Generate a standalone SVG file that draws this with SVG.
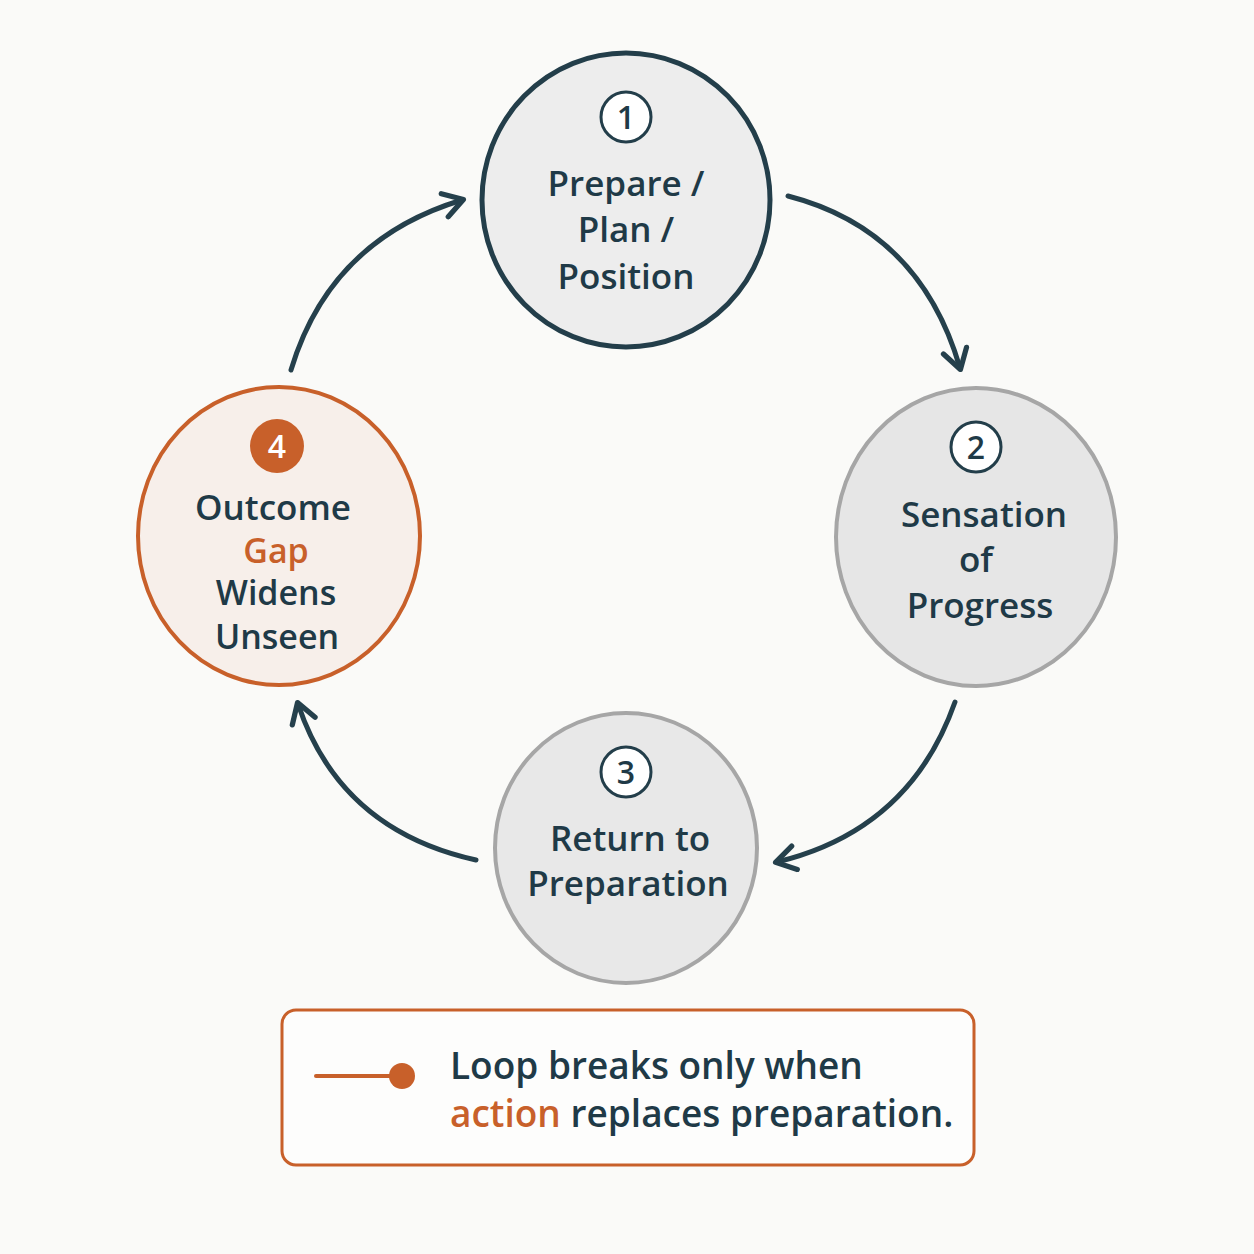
<svg xmlns="http://www.w3.org/2000/svg" width="1254" height="1254" viewBox="0 0 1254 1254">
<defs>
<style>
.t{font-family:"Open Sans","Noto Sans",sans-serif;font-weight:600;font-size:35px;fill:#1f3a47;text-anchor:middle}
.n{font-family:"Open Sans","Noto Sans",sans-serif;font-weight:600;font-size:32px;text-anchor:middle}
.a{fill:none;stroke:#25404c;stroke-width:5;stroke-linecap:round}
</style>
<marker id="ah" viewBox="0 0 20 20" refX="14" refY="10" markerWidth="6" markerHeight="6" orient="auto" markerUnits="strokeWidth"><path d="M2,2 L15,10 L2,18" fill="none" stroke="#25404c" stroke-width="3.5" stroke-linecap="round" stroke-linejoin="round"/></marker>
</defs>
<rect width="1254" height="1254" fill="#fafaf8"/>
<g id="connectors">
<path class="a" d="M788,196 Q920,230 960,368" marker-end="url(#ah)"/>
<path class="a" d="M955,702 Q910,830 777,862" marker-end="url(#ah)"/>
<path class="a" d="M476,860 Q340,830 298,704" marker-end="url(#ah)"/>
<path class="a" d="M291,370 Q330,240 462,200" marker-end="url(#ah)"/>
</g>
<g id="node1">
<ellipse cx="626" cy="200" rx="144" ry="147" fill="#ededed" stroke="#233e4a" stroke-width="5"/>
<circle cx="626" cy="117" r="25" fill="#fff" stroke="#233e4a" stroke-width="3"/>
<text class="n" x="626" y="129" fill="#1f3a47">1</text>
<text class="t" x="626" y="196">Prepare /</text>
<text class="t" x="626" y="242">Plan /</text>
<text class="t" x="626" y="289">Position</text>
</g>
<g id="node2">
<ellipse cx="976" cy="537" rx="140" ry="149" fill="#e6e6e6" stroke="#a6a6a6" stroke-width="4"/>
<circle cx="976" cy="447" r="25" fill="#fff" stroke="#233e4a" stroke-width="3"/>
<text class="n" x="976" y="459" fill="#1f3a47">2</text>
<text class="t" x="984" y="527">Sensation</text>
<text class="t" x="976" y="572">of</text>
<text class="t" x="980" y="618">Progress</text>
</g>
<g id="node3">
<ellipse cx="626" cy="848" rx="131" ry="135" fill="#e8e8e8" stroke="#a6a6a6" stroke-width="4"/>
<circle cx="626" cy="772" r="25" fill="#fff" stroke="#233e4a" stroke-width="3"/>
<text class="n" x="626" y="784" fill="#1f3a47">3</text>
<text class="t" x="630" y="851">Return to</text>
<text class="t" x="628" y="896">Preparation</text>
</g>
<g id="node4">
<ellipse cx="279" cy="536" rx="141" ry="149" fill="#f7efea" stroke="#c8602a" stroke-width="4"/>
<circle cx="277" cy="446" r="27" fill="#c8602a"/>
<text class="n" x="277" y="458" fill="#fff">4</text>
<text class="t" x="273" y="520" font-size="34">Outcome</text>
<text class="t" x="276" y="563" font-size="34" style="fill:#c8602a;font-size:34px">Gap</text>
<text class="t" x="276" y="605" style="font-size:34px">Widens</text>
<text class="t" x="277" y="649" style="font-size:34px">Unseen</text>
</g>
<g id="legend">
<rect x="282" y="1010" width="692" height="155" rx="14" fill="#fdfdfc" stroke="#c8602a" stroke-width="3"/>
<line x1="316" y1="1076" x2="400" y2="1076" stroke="#c8602a" stroke-width="4" stroke-linecap="round"/>
<circle cx="402" cy="1076" r="13" fill="#c8602a"/>
<text x="450" y="1079" style="font-family:'Open Sans','Noto Sans',sans-serif;font-weight:600;font-size:37px;fill:#1f3a47">Loop breaks only when</text>
<text x="450" y="1127" style="font-family:'Open Sans','Noto Sans',sans-serif;font-weight:600;font-size:37px;fill:#1f3a47"><tspan fill="#c8602a">action</tspan> replaces preparation.</text>
</g>
</svg>
